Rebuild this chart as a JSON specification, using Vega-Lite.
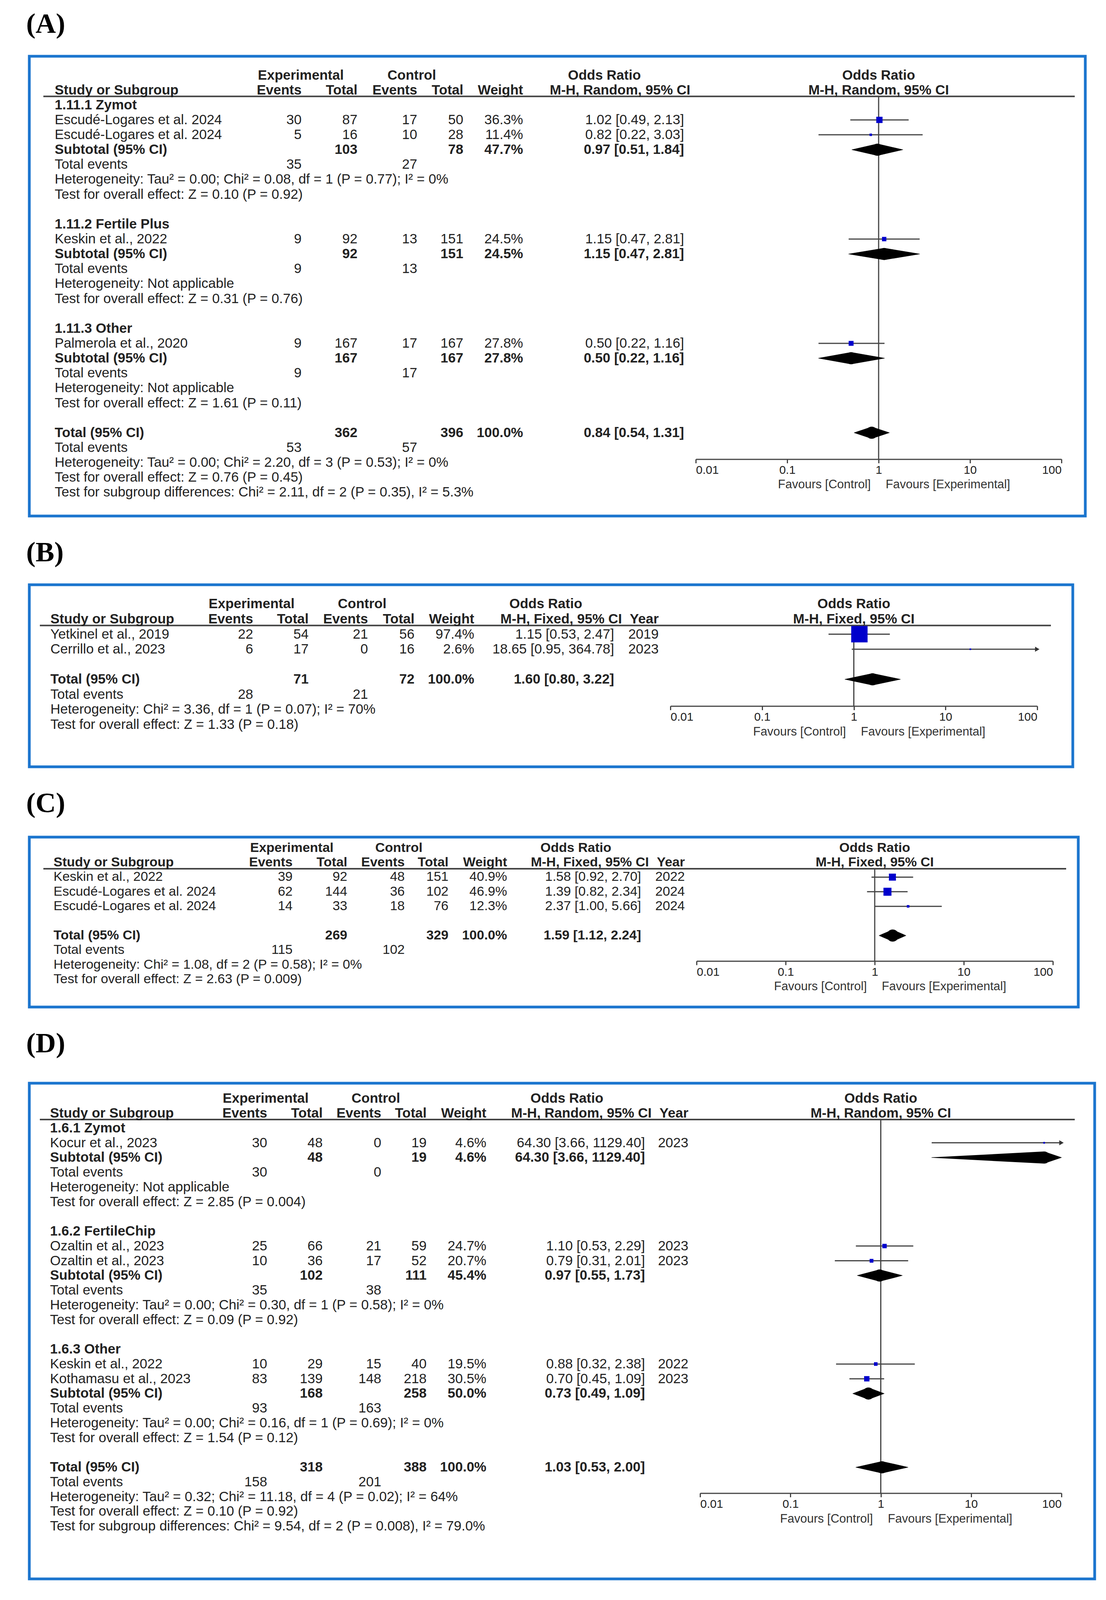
{
  "$schema": "https://vega.github.io/schema/vega-lite/v6.json",
  "background": "white",
  "padding": {"left": 63, "top": 22, "right": 30, "bottom": 15},
  "spacing": 50,
  "config": {
    "view": {"stroke": "#1B75CE", "strokeWidth": 7},
    "text": {"font": "Liberation Sans", "color": "#222", "baseline": "middle"},
    "axis": {"domainColor": "#444", "domainWidth": 3, "tickColor": "#444", "tickWidth": 3, "tickSize": 10, "labelFont": "Liberation Sans", "labelFontSize": 30, "labelColor": "#222", "labelPadding": 3, "grid": false, "labelFlush": true, "labelOverlap": false},
    "title": {"font": "Liberation Serif", "fontSize": 72, "fontWeight": "bold", "anchor": "start", "color": "#000"}
  },
  "vconcat": [
    {
      "title": {"text": "(A)", "offset": 45.5, "dx": -8},
      "width": 2703, "height": 1177,
      "data": {"values": [
        {"row": -2, "kind": "h1", "exp": "Experimental", "ctrl": "Control", "or_h": "Odds Ratio", "plot_h": "Odds Ratio"},
        {"row": -1, "kind": "h2", "study": "Study or Subgroup", "ev_e": "Events", "tot_e": "Total", "ev_c": "Events", "tot_c": "Total", "weight": "Weight", "ci_h": "M-H, Random, 95% CI", "plot_h": "M-H, Random, 95% CI"},
        {"row": 0, "kind": "group", "study": "1.11.1 Zymot"},
        {"row": 1, "kind": "study", "study": "Escudé-Logares et al. 2024", "ev_e": 30, "tot_e": 87, "ev_c": 17, "tot_c": 50, "weight": 36.3, "ci": "1.02 [0.49, 2.13]", "or": 1.02, "lo": 0.49, "hi": 2.13},
        {"row": 2, "kind": "study", "study": "Escudé-Logares et al. 2024", "ev_e": 5, "tot_e": 16, "ev_c": 10, "tot_c": 28, "weight": 11.4, "ci": "0.82 [0.22, 3.03]", "or": 0.82, "lo": 0.22, "hi": 3.03},
        {"row": 3, "kind": "subtotal", "study": "Subtotal (95% CI)", "tot_e": 103, "tot_c": 78, "weight": 47.7, "ci": "0.97 [0.51, 1.84]", "or": 0.97, "lo": 0.51, "hi": 1.84},
        {"row": 4, "kind": "events", "study": "Total events", "ev_e": 35, "ev_c": 27},
        {"row": 5, "kind": "note", "study": "Heterogeneity: Tau² = 0.00; Chi² = 0.08, df = 1 (P = 0.77); I² = 0%"},
        {"row": 6, "kind": "note", "study": "Test for overall effect: Z = 0.10 (P = 0.92)"},
        {"row": 8, "kind": "group", "study": "1.11.2 Fertile Plus"},
        {"row": 9, "kind": "study", "study": "Keskin et al., 2022", "ev_e": 9, "tot_e": 92, "ev_c": 13, "tot_c": 151, "weight": 24.5, "ci": "1.15 [0.47, 2.81]", "or": 1.15, "lo": 0.47, "hi": 2.81},
        {"row": 10, "kind": "subtotal", "study": "Subtotal (95% CI)", "tot_e": 92, "tot_c": 151, "weight": 24.5, "ci": "1.15 [0.47, 2.81]", "or": 1.15, "lo": 0.47, "hi": 2.81},
        {"row": 11, "kind": "events", "study": "Total events", "ev_e": 9, "ev_c": 13},
        {"row": 12, "kind": "note", "study": "Heterogeneity: Not applicable"},
        {"row": 13, "kind": "note", "study": "Test for overall effect: Z = 0.31 (P = 0.76)"},
        {"row": 15, "kind": "group", "study": "1.11.3 Other"},
        {"row": 16, "kind": "study", "study": "Palmerola et al., 2020", "ev_e": 9, "tot_e": 167, "ev_c": 17, "tot_c": 167, "weight": 27.8, "ci": "0.50 [0.22, 1.16]", "or": 0.5, "lo": 0.22, "hi": 1.16},
        {"row": 17, "kind": "subtotal", "study": "Subtotal (95% CI)", "tot_e": 167, "tot_c": 167, "weight": 27.8, "ci": "0.50 [0.22, 1.16]", "or": 0.5, "lo": 0.22, "hi": 1.16},
        {"row": 18, "kind": "events", "study": "Total events", "ev_e": 9, "ev_c": 17},
        {"row": 19, "kind": "note", "study": "Heterogeneity: Not applicable"},
        {"row": 20, "kind": "note", "study": "Test for overall effect: Z = 1.61 (P = 0.11)"},
        {"row": 22, "kind": "total", "study": "Total (95% CI)", "tot_e": 362, "tot_c": 396, "weight": 100.0, "ci": "0.84 [0.54, 1.31]", "or": 0.84, "lo": 0.54, "hi": 1.31},
        {"row": 23, "kind": "events", "study": "Total events", "ev_e": 53, "ev_c": 57},
        {"row": 24, "kind": "note", "study": "Heterogeneity: Tau² = 0.00; Chi² = 2.20, df = 3 (P = 0.53); I² = 0%"},
        {"row": 25, "kind": "note", "study": "Test for overall effect: Z = 0.76 (P = 0.45)"},
        {"row": 26, "kind": "note", "study": "Test for subgroup differences: Chi² = 2.11, df = 2 (P = 0.35), I² = 5.3%"}
      ]},
      "encoding": {"y": {"field": "row", "type": "quantitative", "scale": {"domain": [-3.272, 27.59], "reverse": true, "nice": false, "zero": false}, "axis": null}},
      "resolve": {"scale": {"x": "independent"}},
      "layer": [
        {
          "transform": [
            {"fold": ["study", "ev_e", "tot_e", "ev_c", "tot_c", "weight", "ci", "year", "exp", "ctrl", "or_h", "ci_h"], "as": ["key", "value"]},
            {"filter": "isValid(datum.value)"},
            {"calculate": "indexof(['edgeL','study','ev_e','tot_e','ev_c','tot_c','weight','ci','year','exp','ctrl','or_h','edgeR','ci_h'], datum.key)", "as": "col"},
            {"calculate": "datum.key === 'weight' && isNumber(datum.value) ? format(datum.value, '.1f') + '%' : '' + datum.value", "as": "label"},
            {"calculate": "indexof(['h1','h2','group','subtotal','total'], datum.kind) >= 0", "as": "bold"}
          ],
          "encoding": {"x": {"field": "col", "type": "quantitative", "scale": {"domain": [0,1,2,3,4,5,6,7,8,9,10,11,12,13], "range": [36, 65, 697, 840, 993, 1111, 1264, 1676, 1726, 695, 979, 1472, 2676, 1692], "nice": false, "zero": false}, "axis": null}},
          "layer": [
            {"transform": [{"filter": "datum.key === 'study' && datum.row === -1"}], "mark": {"type": "rule", "color": "#444", "strokeWidth": 4}, "encoding": {"x": {"datum": 0, "type": "quantitative"}, "x2": {"datum": 12}, "y": {"datum": -0.575, "type": "quantitative"}}},
            {"transform": [{"filter": "datum.key === 'study' && !datum.bold"}], "mark": {"type": "text", "align": "left", "fontSize": 35}, "encoding": {"text": {"field": "label", "type": "nominal"}}},
            {"transform": [{"filter": "datum.key === 'study' && datum.bold"}], "mark": {"type": "text", "align": "left", "fontSize": 35, "fontWeight": "bold"}, "encoding": {"text": {"field": "label", "type": "nominal"}}},
            {"transform": [{"filter": "indexof(['study','exp','ctrl','or_h'], datum.key) < 0 && !datum.bold"}], "mark": {"type": "text", "align": "right", "fontSize": 35}, "encoding": {"text": {"field": "label", "type": "nominal"}}},
            {"transform": [{"filter": "indexof(['study','exp','ctrl','or_h'], datum.key) < 0 && datum.bold"}], "mark": {"type": "text", "align": "right", "fontSize": 35, "fontWeight": "bold"}, "encoding": {"text": {"field": "label", "type": "nominal"}}},
            {"transform": [{"filter": "indexof(['exp','ctrl','or_h'], datum.key) >= 0"}], "mark": {"type": "text", "align": "center", "fontSize": 35, "fontWeight": "bold"}, "encoding": {"text": {"field": "label", "type": "nominal"}}}
          ]
        },
        {
          "resolve": {"scale": {"size": "independent"}},
          "layer": [
            {"transform": [{"filter": "datum.row === -1"}], "mark": {"type": "rule", "color": "#444", "strokeWidth": 3},
             "encoding": {"x": {"datum": 1, "type": "quantitative", "scale": {"type": "log", "domain": [0.01, 100], "range": [1706, 2642], "clamp": true, "nice": false}, "axis": {"values": [0.01, 0.1, 1, 10, 100], "format": "~g", "offset": -145.5, "title": null}}, "y": {"datum": -0.575, "type": "quantitative"}, "y2": {"datum": 23.77}}},
            {"transform": [{"filter": "datum.kind === 'study'"}], "mark": {"type": "rule", "color": "#444", "strokeWidth": 3},
             "encoding": {"x": {"field": "lo", "type": "quantitative", "title": null}, "x2": {"field": "hi"}}},
            {"transform": [{"filter": "datum.kind === 'study'"}], "mark": {"type": "point", "shape": "square", "filled": true, "color": "#0000CC", "opacity": 1, "strokeWidth": 0},
             "encoding": {"x": {"field": "or", "type": "quantitative", "title": null}, "size": {"field": "weight", "type": "quantitative", "scale": {"type": "pow", "exponent": 2, "domain": [0, 100], "range": [16, 1850]}, "legend": null}}},
            {"transform": [{"filter": "datum.kind === 'study' && datum.hi > 100"}], "mark": {"type": "point", "shape": "triangle-right", "filled": true, "color": "#333", "opacity": 1, "size": 170},
             "encoding": {"x": {"field": "hi", "type": "quantitative", "title": null}}},
            {"transform": [{"filter": "datum.kind === 'subtotal' || datum.kind === 'total'"}, {"fold": ["lo", "or", "hi"], "as": ["pt", "val"]}], "mark": {"type": "trail", "color": "#000", "opacity": 1},
             "encoding": {"x": {"field": "val", "type": "quantitative", "title": null}, "detail": {"field": "row", "type": "nominal"}, "order": {"field": "val", "type": "quantitative"}, "size": {"field": "pt", "type": "ordinal", "scale": {"type": "ordinal", "domain": ["lo", "or", "hi"], "range": [0, 31, 0]}, "legend": null}}},
            {"transform": [{"filter": "isValid(datum.plot_h)"}], "mark": {"type": "text", "fontWeight": "bold", "fontSize": 35},
             "encoding": {"x": {"datum": 1, "type": "quantitative"}, "text": {"field": "plot_h", "type": "nominal"}}},
            {"transform": [{"filter": "datum.row === -1"}], "mark": {"type": "text", "text": "Favours [Control]", "align": "right", "dx": -20, "fontSize": 31, "color": "#333"},
             "encoding": {"x": {"datum": 1, "type": "quantitative"}, "y": {"datum": 25.5, "type": "quantitative"}}},
            {"transform": [{"filter": "datum.row === -1"}], "mark": {"type": "text", "text": "Favours [Experimental]", "align": "left", "dx": 18, "fontSize": 31, "color": "#333"},
             "encoding": {"x": {"datum": 1, "type": "quantitative"}, "y": {"datum": 25.5, "type": "quantitative"}}}
          ]
        }
      ]
    },
    {
      "title": {"text": "(B)", "offset": 44.9, "dx": -8},
      "width": 2671, "height": 466,
      "data": {"values": [
        {"row": -2, "kind": "h1", "exp": "Experimental", "ctrl": "Control", "or_h": "Odds Ratio", "plot_h": "Odds Ratio"},
        {"row": -1, "kind": "h2", "study": "Study or Subgroup", "ev_e": "Events", "tot_e": "Total", "ev_c": "Events", "tot_c": "Total", "weight": "Weight", "ci_h": "M-H, Fixed, 95% CI", "year": "Year", "plot_h": "M-H, Fixed, 95% CI"},
        {"row": 0, "kind": "study", "study": "Yetkinel et al., 2019", "ev_e": 22, "tot_e": 54, "ev_c": 21, "tot_c": 56, "weight": 97.4, "ci": "1.15 [0.53, 2.47]", "year": 2019, "or": 1.15, "lo": 0.53, "hi": 2.47},
        {"row": 1, "kind": "study", "study": "Cerrillo et al., 2023", "ev_e": 6, "tot_e": 17, "ev_c": 0, "tot_c": 16, "weight": 2.6, "ci": "18.65 [0.95, 364.78]", "year": 2023, "or": 18.65, "lo": 0.95, "hi": 364.78},
        {"row": 3, "kind": "total", "study": "Total (95% CI)", "tot_e": 71, "tot_c": 72, "weight": 100.0, "ci": "1.60 [0.80, 3.22]", "or": 1.6, "lo": 0.8, "hi": 3.22},
        {"row": 4, "kind": "events", "study": "Total events", "ev_e": 28, "ev_c": 21},
        {"row": 5, "kind": "note", "study": "Heterogeneity: Chi² = 3.36, df = 1 (P = 0.07); I² = 70%"},
        {"row": 6, "kind": "note", "study": "Test for overall effect: Z = 1.33 (P = 0.18)"}
      ]},
      "encoding": {"y": {"field": "row", "type": "quantitative", "scale": {"domain": [-3.285, 8.815], "reverse": true, "nice": false, "zero": false}, "axis": null}},
      "resolve": {"scale": {"x": "independent"}},
      "layer": [
        {
          "transform": [
            {"fold": ["study", "ev_e", "tot_e", "ev_c", "tot_c", "weight", "ci", "year", "exp", "ctrl", "or_h", "ci_h"], "as": ["key", "value"]},
            {"filter": "isValid(datum.value)"},
            {"calculate": "indexof(['edgeL','study','ev_e','tot_e','ev_c','tot_c','weight','ci','year','exp','ctrl','or_h','edgeR','ci_h'], datum.key)", "as": "col"},
            {"calculate": "datum.key === 'weight' && isNumber(datum.value) ? format(datum.value, '.1f') + '%' : '' + datum.value", "as": "label"},
            {"calculate": "indexof(['h1','h2','group','subtotal','total'], datum.kind) >= 0", "as": "bold"}
          ],
          "encoding": {"x": {"field": "col", "type": "quantitative", "scale": {"domain": [0,1,2,3,4,5,6,7,8,9,10,11,12,13], "range": [27, 54, 573, 715, 867, 986, 1139, 1497, 1611, 569, 852, 1322, 2615, 1517], "nice": false, "zero": false}, "axis": null}},
          "layer": [
            {"transform": [{"filter": "datum.key === 'study' && datum.row === -1"}], "mark": {"type": "rule", "color": "#444", "strokeWidth": 4}, "encoding": {"x": {"datum": 0, "type": "quantitative"}, "x2": {"datum": 12}, "y": {"datum": -0.575, "type": "quantitative"}}},
            {"transform": [{"filter": "datum.key === 'study' && !datum.bold"}], "mark": {"type": "text", "align": "left", "fontSize": 35}, "encoding": {"text": {"field": "label", "type": "nominal"}}},
            {"transform": [{"filter": "datum.key === 'study' && datum.bold"}], "mark": {"type": "text", "align": "left", "fontSize": 35, "fontWeight": "bold"}, "encoding": {"text": {"field": "label", "type": "nominal"}}},
            {"transform": [{"filter": "indexof(['study','exp','ctrl','or_h'], datum.key) < 0 && !datum.bold"}], "mark": {"type": "text", "align": "right", "fontSize": 35}, "encoding": {"text": {"field": "label", "type": "nominal"}}},
            {"transform": [{"filter": "indexof(['study','exp','ctrl','or_h'], datum.key) < 0 && datum.bold"}], "mark": {"type": "text", "align": "right", "fontSize": 35, "fontWeight": "bold"}, "encoding": {"text": {"field": "label", "type": "nominal"}}},
            {"transform": [{"filter": "indexof(['exp','ctrl','or_h'], datum.key) >= 0"}], "mark": {"type": "text", "align": "center", "fontSize": 35, "fontWeight": "bold"}, "encoding": {"text": {"field": "label", "type": "nominal"}}}
          ]
        },
        {
          "resolve": {"scale": {"size": "independent"}},
          "layer": [
            {"transform": [{"filter": "datum.row === -1"}], "mark": {"type": "rule", "color": "#444", "strokeWidth": 3},
             "encoding": {"x": {"datum": 1, "type": "quantitative", "scale": {"type": "log", "domain": [0.01, 100], "range": [1641, 2580], "clamp": true, "nice": false}, "axis": {"values": [0.01, 0.1, 1, 10, 100], "format": "~g", "offset": -155.5, "title": null}}, "y": {"datum": -0.575, "type": "quantitative"}, "y2": {"datum": 4.78}}},
            {"transform": [{"filter": "datum.kind === 'study'"}], "mark": {"type": "rule", "color": "#444", "strokeWidth": 3},
             "encoding": {"x": {"field": "lo", "type": "quantitative", "title": null}, "x2": {"field": "hi"}}},
            {"transform": [{"filter": "datum.kind === 'study'"}], "mark": {"type": "point", "shape": "square", "filled": true, "color": "#0000CC", "opacity": 1, "strokeWidth": 0},
             "encoding": {"x": {"field": "or", "type": "quantitative", "title": null}, "size": {"field": "weight", "type": "quantitative", "scale": {"type": "pow", "exponent": 2, "domain": [0, 100], "range": [16, 1850]}, "legend": null}}},
            {"transform": [{"filter": "datum.kind === 'study' && datum.hi > 100"}], "mark": {"type": "point", "shape": "triangle-right", "filled": true, "color": "#333", "opacity": 1, "size": 170},
             "encoding": {"x": {"field": "hi", "type": "quantitative", "title": null}}},
            {"transform": [{"filter": "datum.kind === 'subtotal' || datum.kind === 'total'"}, {"fold": ["lo", "or", "hi"], "as": ["pt", "val"]}], "mark": {"type": "trail", "color": "#000", "opacity": 1},
             "encoding": {"x": {"field": "val", "type": "quantitative", "title": null}, "detail": {"field": "row", "type": "nominal"}, "order": {"field": "val", "type": "quantitative"}, "size": {"field": "pt", "type": "ordinal", "scale": {"type": "ordinal", "domain": ["lo", "or", "hi"], "range": [0, 31, 0]}, "legend": null}}},
            {"transform": [{"filter": "isValid(datum.plot_h)"}], "mark": {"type": "text", "fontWeight": "bold", "fontSize": 35},
             "encoding": {"x": {"datum": 1, "type": "quantitative"}, "text": {"field": "plot_h", "type": "nominal"}}},
            {"transform": [{"filter": "datum.row === -1"}], "mark": {"type": "text", "text": "Favours [Control]", "align": "right", "dx": -20, "fontSize": 31, "color": "#333"},
             "encoding": {"x": {"datum": 1, "type": "quantitative"}, "y": {"datum": 6.494, "type": "quantitative"}}},
            {"transform": [{"filter": "datum.row === -1"}], "mark": {"type": "text", "text": "Favours [Experimental]", "align": "left", "dx": 18, "fontSize": 31, "color": "#333"},
             "encoding": {"x": {"datum": 1, "type": "quantitative"}, "y": {"datum": 6.494, "type": "quantitative"}}}
          ]
        }
      ]
    },
    {
      "title": {"text": "(C)", "offset": 48.8, "dx": -8},
      "width": 2685, "height": 435,
      "data": {"values": [
        {"row": -2, "kind": "h1", "exp": "Experimental", "ctrl": "Control", "or_h": "Odds Ratio", "plot_h": "Odds Ratio"},
        {"row": -1, "kind": "h2", "study": "Study or Subgroup", "ev_e": "Events", "tot_e": "Total", "ev_c": "Events", "tot_c": "Total", "weight": "Weight", "ci_h": "M-H, Fixed, 95% CI", "year": "Year", "plot_h": "M-H, Fixed, 95% CI"},
        {"row": 0, "kind": "study", "study": "Keskin et al., 2022", "ev_e": 39, "tot_e": 92, "ev_c": 48, "tot_c": 151, "weight": 40.9, "ci": "1.58 [0.92, 2.70]", "year": 2022, "or": 1.58, "lo": 0.92, "hi": 2.7},
        {"row": 1, "kind": "study", "study": "Escudé-Logares et al. 2024", "ev_e": 62, "tot_e": 144, "ev_c": 36, "tot_c": 102, "weight": 46.9, "ci": "1.39 [0.82, 2.34]", "year": 2024, "or": 1.39, "lo": 0.82, "hi": 2.34},
        {"row": 2, "kind": "study", "study": "Escudé-Logares et al. 2024", "ev_e": 14, "tot_e": 33, "ev_c": 18, "tot_c": 76, "weight": 12.3, "ci": "2.37 [1.00, 5.66]", "year": 2024, "or": 2.37, "lo": 1.0, "hi": 5.66},
        {"row": 4, "kind": "total", "study": "Total (95% CI)", "tot_e": 269, "tot_c": 329, "weight": 100.0, "ci": "1.59 [1.12, 2.24]", "or": 1.59, "lo": 1.12, "hi": 2.24},
        {"row": 5, "kind": "events", "study": "Total events", "ev_e": 115, "ev_c": 102},
        {"row": 6, "kind": "note", "study": "Heterogeneity: Chi² = 1.08, df = 2 (P = 0.58); I² = 0%"},
        {"row": 7, "kind": "note", "study": "Test for overall effect: Z = 2.63 (P = 0.009)"}
      ]},
      "encoding": {"y": {"field": "row", "type": "quantitative", "scale": {"domain": [-2.741, 8.894], "reverse": true, "nice": false, "zero": false}, "axis": null}},
      "resolve": {"scale": {"x": "independent"}},
      "layer": [
        {
          "transform": [
            {"fold": ["study", "ev_e", "tot_e", "ev_c", "tot_c", "weight", "ci", "year", "exp", "ctrl", "or_h", "ci_h"], "as": ["key", "value"]},
            {"filter": "isValid(datum.value)"},
            {"calculate": "indexof(['edgeL','study','ev_e','tot_e','ev_c','tot_c','weight','ci','year','exp','ctrl','or_h','edgeR','ci_h'], datum.key)", "as": "col"},
            {"calculate": "datum.key === 'weight' && isNumber(datum.value) ? format(datum.value, '.1f') + '%' : '' + datum.value", "as": "label"},
            {"calculate": "indexof(['h1','h2','group','subtotal','total'], datum.kind) >= 0", "as": "bold"}
          ],
          "encoding": {"x": {"field": "col", "type": "quantitative", "scale": {"domain": [0,1,2,3,4,5,6,7,8,9,10,11,12,13], "range": [36, 62, 674, 814, 961, 1073, 1223, 1566, 1678, 672, 946, 1399, 2654, 1586], "nice": false, "zero": false}, "axis": null}},
          "layer": [
            {"transform": [{"filter": "datum.key === 'study' && datum.row === -1"}], "mark": {"type": "rule", "color": "#444", "strokeWidth": 4}, "encoding": {"x": {"datum": 0, "type": "quantitative"}, "x2": {"datum": 12}, "y": {"datum": -0.575, "type": "quantitative"}}},
            {"transform": [{"filter": "datum.key === 'study' && !datum.bold"}], "mark": {"type": "text", "align": "left", "fontSize": 34}, "encoding": {"text": {"field": "label", "type": "nominal"}}},
            {"transform": [{"filter": "datum.key === 'study' && datum.bold"}], "mark": {"type": "text", "align": "left", "fontSize": 34, "fontWeight": "bold"}, "encoding": {"text": {"field": "label", "type": "nominal"}}},
            {"transform": [{"filter": "indexof(['study','exp','ctrl','or_h'], datum.key) < 0 && !datum.bold"}], "mark": {"type": "text", "align": "right", "fontSize": 34}, "encoding": {"text": {"field": "label", "type": "nominal"}}},
            {"transform": [{"filter": "indexof(['study','exp','ctrl','or_h'], datum.key) < 0 && datum.bold"}], "mark": {"type": "text", "align": "right", "fontSize": 34, "fontWeight": "bold"}, "encoding": {"text": {"field": "label", "type": "nominal"}}},
            {"transform": [{"filter": "indexof(['exp','ctrl','or_h'], datum.key) >= 0"}], "mark": {"type": "text", "align": "center", "fontSize": 34, "fontWeight": "bold"}, "encoding": {"text": {"field": "label", "type": "nominal"}}}
          ]
        },
        {
          "resolve": {"scale": {"size": "independent"}},
          "layer": [
            {"transform": [{"filter": "datum.row === -1"}], "mark": {"type": "rule", "color": "#444", "strokeWidth": 3},
             "encoding": {"x": {"datum": 1, "type": "quantitative", "scale": {"type": "log", "domain": [0.01, 100], "range": [1708, 2620], "clamp": true, "nice": false}, "axis": {"values": [0.01, 0.1, 1, 10, 100], "format": "~g", "offset": -117.8, "title": null}}, "y": {"datum": -0.575, "type": "quantitative"}, "y2": {"datum": 5.746}}},
            {"transform": [{"filter": "datum.kind === 'study'"}], "mark": {"type": "rule", "color": "#444", "strokeWidth": 3},
             "encoding": {"x": {"field": "lo", "type": "quantitative", "title": null}, "x2": {"field": "hi"}}},
            {"transform": [{"filter": "datum.kind === 'study'"}], "mark": {"type": "point", "shape": "square", "filled": true, "color": "#0000CC", "opacity": 1, "strokeWidth": 0},
             "encoding": {"x": {"field": "or", "type": "quantitative", "title": null}, "size": {"field": "weight", "type": "quantitative", "scale": {"type": "pow", "exponent": 2, "domain": [0, 100], "range": [16, 1850]}, "legend": null}}},
            {"transform": [{"filter": "datum.kind === 'subtotal' || datum.kind === 'total'"}, {"fold": ["lo", "or", "hi"], "as": ["pt", "val"]}], "mark": {"type": "trail", "color": "#000", "opacity": 1},
             "encoding": {"x": {"field": "val", "type": "quantitative", "title": null}, "detail": {"field": "row", "type": "nominal"}, "order": {"field": "val", "type": "quantitative"}, "size": {"field": "pt", "type": "ordinal", "scale": {"type": "ordinal", "domain": ["lo", "or", "hi"], "range": [0, 31, 0]}, "legend": null}}},
            {"transform": [{"filter": "isValid(datum.plot_h)"}], "mark": {"type": "text", "fontWeight": "bold", "fontSize": 34},
             "encoding": {"x": {"datum": 1, "type": "quantitative"}, "text": {"field": "plot_h", "type": "nominal"}}},
            {"transform": [{"filter": "datum.row === -1"}], "mark": {"type": "text", "text": "Favours [Control]", "align": "right", "dx": -20, "fontSize": 31, "color": "#333"},
             "encoding": {"x": {"datum": 1, "type": "quantitative"}, "y": {"datum": 7.511, "type": "quantitative"}}},
            {"transform": [{"filter": "datum.row === -1"}], "mark": {"type": "text", "text": "Favours [Experimental]", "align": "left", "dx": 18, "fontSize": 31, "color": "#333"},
             "encoding": {"x": {"datum": 1, "type": "quantitative"}, "y": {"datum": 7.511, "type": "quantitative"}}}
          ]
        }
      ]
    },
    {
      "title": {"text": "(D)", "offset": 64.2, "dx": -8},
      "width": 2727, "height": 1269,
      "data": {"values": [
        {"row": -2, "kind": "h1", "exp": "Experimental", "ctrl": "Control", "or_h": "Odds Ratio", "plot_h": "Odds Ratio"},
        {"row": -1, "kind": "h2", "study": "Study or Subgroup", "ev_e": "Events", "tot_e": "Total", "ev_c": "Events", "tot_c": "Total", "weight": "Weight", "ci_h": "M-H, Random, 95% CI", "year": "Year", "plot_h": "M-H, Random, 95% CI"},
        {"row": 0, "kind": "group", "study": "1.6.1 Zymot"},
        {"row": 1, "kind": "study", "study": "Kocur et al., 2023", "ev_e": 30, "tot_e": 48, "ev_c": 0, "tot_c": 19, "weight": 4.6, "ci": "64.30 [3.66, 1129.40]", "year": 2023, "or": 64.3, "lo": 3.66, "hi": 1129.4},
        {"row": 2, "kind": "subtotal", "study": "Subtotal (95% CI)", "tot_e": 48, "tot_c": 19, "weight": 4.6, "ci": "64.30 [3.66, 1129.40]", "or": 64.3, "lo": 3.66, "hi": 1129.4},
        {"row": 3, "kind": "events", "study": "Total events", "ev_e": 30, "ev_c": 0},
        {"row": 4, "kind": "note", "study": "Heterogeneity: Not applicable"},
        {"row": 5, "kind": "note", "study": "Test for overall effect: Z = 2.85 (P = 0.004)"},
        {"row": 7, "kind": "group", "study": "1.6.2 FertileChip"},
        {"row": 8, "kind": "study", "study": "Ozaltin et al., 2023", "ev_e": 25, "tot_e": 66, "ev_c": 21, "tot_c": 59, "weight": 24.7, "ci": "1.10 [0.53, 2.29]", "year": 2023, "or": 1.1, "lo": 0.53, "hi": 2.29},
        {"row": 9, "kind": "study", "study": "Ozaltin et al., 2023", "ev_e": 10, "tot_e": 36, "ev_c": 17, "tot_c": 52, "weight": 20.7, "ci": "0.79 [0.31, 2.01]", "year": 2023, "or": 0.79, "lo": 0.31, "hi": 2.01},
        {"row": 10, "kind": "subtotal", "study": "Subtotal (95% CI)", "tot_e": 102, "tot_c": 111, "weight": 45.4, "ci": "0.97 [0.55, 1.73]", "or": 0.97, "lo": 0.55, "hi": 1.73},
        {"row": 11, "kind": "events", "study": "Total events", "ev_e": 35, "ev_c": 38},
        {"row": 12, "kind": "note", "study": "Heterogeneity: Tau² = 0.00; Chi² = 0.30, df = 1 (P = 0.58); I² = 0%"},
        {"row": 13, "kind": "note", "study": "Test for overall effect: Z = 0.09 (P = 0.92)"},
        {"row": 15, "kind": "group", "study": "1.6.3 Other"},
        {"row": 16, "kind": "study", "study": "Keskin et al., 2022", "ev_e": 10, "tot_e": 29, "ev_c": 15, "tot_c": 40, "weight": 19.5, "ci": "0.88 [0.32, 2.38]", "year": 2022, "or": 0.88, "lo": 0.32, "hi": 2.38},
        {"row": 17, "kind": "study", "study": "Kothamasu et al., 2023", "ev_e": 83, "tot_e": 139, "ev_c": 148, "tot_c": 218, "weight": 30.5, "ci": "0.70 [0.45, 1.09]", "year": 2023, "or": 0.7, "lo": 0.45, "hi": 1.09},
        {"row": 18, "kind": "subtotal", "study": "Subtotal (95% CI)", "tot_e": 168, "tot_c": 258, "weight": 50.0, "ci": "0.73 [0.49, 1.09]", "or": 0.73, "lo": 0.49, "hi": 1.09},
        {"row": 19, "kind": "events", "study": "Total events", "ev_e": 93, "ev_c": 163},
        {"row": 20, "kind": "note", "study": "Heterogeneity: Tau² = 0.00; Chi² = 0.16, df = 1 (P = 0.69); I² = 0%"},
        {"row": 21, "kind": "note", "study": "Test for overall effect: Z = 1.54 (P = 0.12)"},
        {"row": 23, "kind": "total", "study": "Total (95% CI)", "tot_e": 318, "tot_c": 388, "weight": 100.0, "ci": "1.03 [0.53, 2.00]", "or": 1.03, "lo": 0.53, "hi": 2.0},
        {"row": 24, "kind": "events", "study": "Total events", "ev_e": 158, "ev_c": 201},
        {"row": 25, "kind": "note", "study": "Heterogeneity: Tau² = 0.32; Chi² = 11.18, df = 4 (P = 0.02); I² = 64%"},
        {"row": 26, "kind": "note", "study": "Test for overall effect: Z = 0.10 (P = 0.92)"},
        {"row": 27, "kind": "note", "study": "Test for subgroup differences: Chi² = 9.54, df = 2 (P = 0.008), I² = 79.0%"}
      ]},
      "encoding": {"y": {"field": "row", "type": "quantitative", "scale": {"domain": [-3.041, 30.57], "reverse": true, "nice": false, "zero": false}, "axis": null}},
      "resolve": {"scale": {"x": "independent"}},
      "layer": [
        {
          "transform": [
            {"fold": ["study", "ev_e", "tot_e", "ev_c", "tot_c", "weight", "ci", "year", "exp", "ctrl", "or_h", "ci_h"], "as": ["key", "value"]},
            {"filter": "isValid(datum.value)"},
            {"calculate": "indexof(['edgeL','study','ev_e','tot_e','ev_c','tot_c','weight','ci','year','exp','ctrl','or_h','edgeR','ci_h'], datum.key)", "as": "col"},
            {"calculate": "datum.key === 'weight' && isNumber(datum.value) ? format(datum.value, '.1f') + '%' : '' + datum.value", "as": "label"},
            {"calculate": "indexof(['h1','h2','group','subtotal','total'], datum.kind) >= 0", "as": "bold"}
          ],
          "encoding": {"x": {"field": "col", "type": "quantitative", "scale": {"domain": [0,1,2,3,4,5,6,7,8,9,10,11,12,13], "range": [27, 53, 609, 751, 901, 1017, 1170, 1576, 1687, 605, 887, 1376, 2676, 1593], "nice": false, "zero": false}, "axis": null}},
          "layer": [
            {"transform": [{"filter": "datum.key === 'study' && datum.row === -1"}], "mark": {"type": "rule", "color": "#444", "strokeWidth": 4}, "encoding": {"x": {"datum": 0, "type": "quantitative"}, "x2": {"datum": 12}, "y": {"datum": -0.575, "type": "quantitative"}}},
            {"transform": [{"filter": "datum.key === 'study' && !datum.bold"}], "mark": {"type": "text", "align": "left", "fontSize": 35}, "encoding": {"text": {"field": "label", "type": "nominal"}}},
            {"transform": [{"filter": "datum.key === 'study' && datum.bold"}], "mark": {"type": "text", "align": "left", "fontSize": 35, "fontWeight": "bold"}, "encoding": {"text": {"field": "label", "type": "nominal"}}},
            {"transform": [{"filter": "indexof(['study','exp','ctrl','or_h'], datum.key) < 0 && !datum.bold"}], "mark": {"type": "text", "align": "right", "fontSize": 35}, "encoding": {"text": {"field": "label", "type": "nominal"}}},
            {"transform": [{"filter": "indexof(['study','exp','ctrl','or_h'], datum.key) < 0 && datum.bold"}], "mark": {"type": "text", "align": "right", "fontSize": 35, "fontWeight": "bold"}, "encoding": {"text": {"field": "label", "type": "nominal"}}},
            {"transform": [{"filter": "indexof(['exp','ctrl','or_h'], datum.key) >= 0"}], "mark": {"type": "text", "align": "center", "fontSize": 35, "fontWeight": "bold"}, "encoding": {"text": {"field": "label", "type": "nominal"}}}
          ]
        },
        {
          "resolve": {"scale": {"size": "independent"}},
          "layer": [
            {"transform": [{"filter": "datum.row === -1"}], "mark": {"type": "rule", "color": "#444", "strokeWidth": 3},
             "encoding": {"x": {"datum": 1, "type": "quantitative", "scale": {"type": "log", "domain": [0.01, 100], "range": [1717, 2642], "clamp": true, "nice": false}, "axis": {"values": [0.01, 0.1, 1, 10, 100], "format": "~g", "offset": -219.5, "title": null}}, "y": {"datum": -0.575, "type": "quantitative"}, "y2": {"datum": 24.76}}},
            {"transform": [{"filter": "datum.kind === 'study'"}], "mark": {"type": "rule", "color": "#444", "strokeWidth": 3},
             "encoding": {"x": {"field": "lo", "type": "quantitative", "title": null}, "x2": {"field": "hi"}}},
            {"transform": [{"filter": "datum.kind === 'study'"}], "mark": {"type": "point", "shape": "square", "filled": true, "color": "#0000CC", "opacity": 1, "strokeWidth": 0},
             "encoding": {"x": {"field": "or", "type": "quantitative", "title": null}, "size": {"field": "weight", "type": "quantitative", "scale": {"type": "pow", "exponent": 2, "domain": [0, 100], "range": [16, 1850]}, "legend": null}}},
            {"transform": [{"filter": "datum.kind === 'study' && datum.hi > 100"}], "mark": {"type": "point", "shape": "triangle-right", "filled": true, "color": "#333", "opacity": 1, "size": 170},
             "encoding": {"x": {"field": "hi", "type": "quantitative", "title": null}}},
            {"transform": [{"filter": "datum.kind === 'subtotal' || datum.kind === 'total'"}, {"fold": ["lo", "or", "hi"], "as": ["pt", "val"]}], "mark": {"type": "trail", "color": "#000", "opacity": 1},
             "encoding": {"x": {"field": "val", "type": "quantitative", "title": null}, "detail": {"field": "row", "type": "nominal"}, "order": {"field": "val", "type": "quantitative"}, "size": {"field": "pt", "type": "ordinal", "scale": {"type": "ordinal", "domain": ["lo", "or", "hi"], "range": [0, 31, 0]}, "legend": null}}},
            {"transform": [{"filter": "isValid(datum.plot_h)"}], "mark": {"type": "text", "fontWeight": "bold", "fontSize": 35},
             "encoding": {"x": {"datum": 1, "type": "quantitative"}, "text": {"field": "plot_h", "type": "nominal"}}},
            {"transform": [{"filter": "datum.row === -1"}], "mark": {"type": "text", "text": "Favours [Control]", "align": "right", "dx": -20, "fontSize": 31, "color": "#333"},
             "encoding": {"x": {"datum": 1, "type": "quantitative"}, "y": {"datum": 26.508, "type": "quantitative"}}},
            {"transform": [{"filter": "datum.row === -1"}], "mark": {"type": "text", "text": "Favours [Experimental]", "align": "left", "dx": 18, "fontSize": 31, "color": "#333"},
             "encoding": {"x": {"datum": 1, "type": "quantitative"}, "y": {"datum": 26.508, "type": "quantitative"}}}
          ]
        }
      ]
    }
  ]
}
